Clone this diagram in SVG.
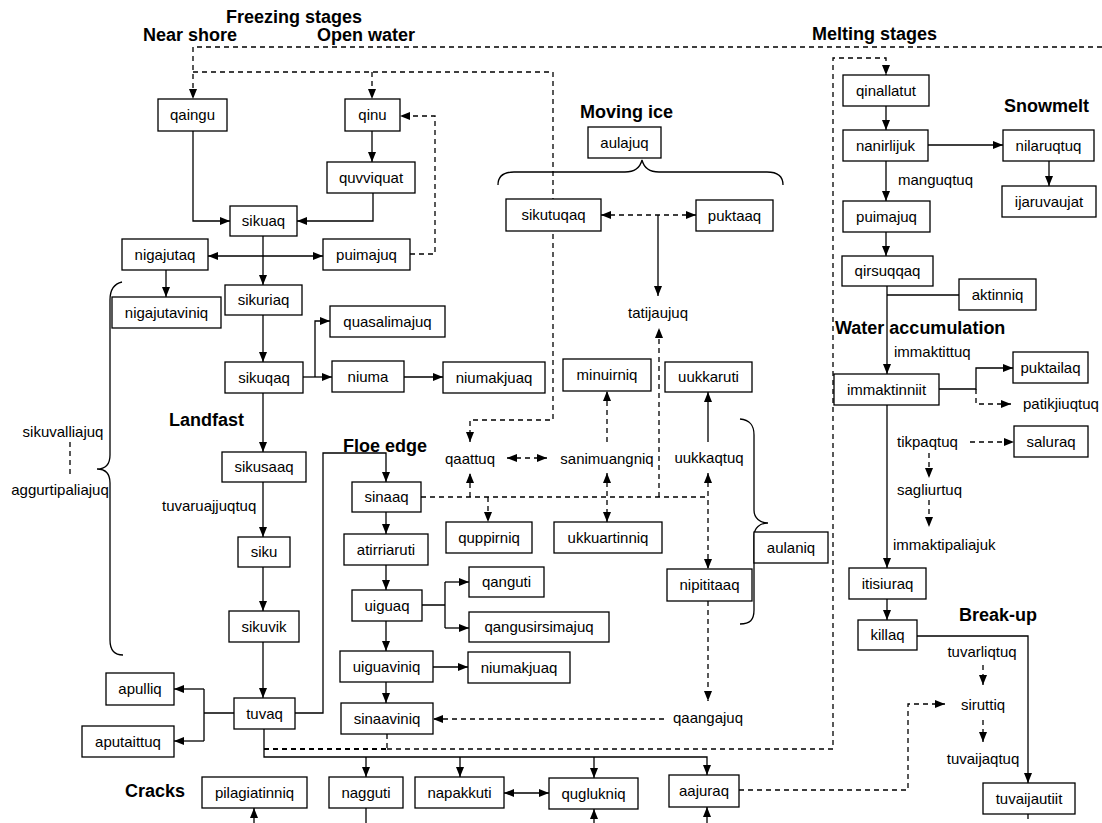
<svg xmlns="http://www.w3.org/2000/svg" width="1102" height="823" viewBox="0 0 1102 823">
<style>
.b{fill:#fff;stroke:#000;stroke-width:1.3}
.t{font-family:"Liberation Sans",Arial,sans-serif;font-size:15px;fill:#000;text-anchor:middle}
.l{font-family:"Liberation Sans",Arial,sans-serif;font-size:15px;fill:#000}
.h{font-family:"Liberation Sans",Arial,sans-serif;font-size:18px;font-weight:bold;fill:#000}
.s{fill:none;stroke:#000;stroke-width:1.3}
.d{fill:none;stroke:#000;stroke-width:1.3;stroke-dasharray:5 4}
.a{marker-end:url(#ah)}
.aa{marker-end:url(#ah);marker-start:url(#ah)}
</style>
<defs>
<marker id="ah" viewBox="0 0 10 8" refX="10" refY="4" markerWidth="10" markerHeight="8" markerUnits="userSpaceOnUse" orient="auto-start-reverse">
<path d="M0,0 L10,4 L0,8 Z" fill="#000"/>
</marker>
</defs>
<rect width="1102" height="823" fill="#fff"/>
<g id="connectors">
<path class="s a" d="M193,131 V221 H230"/>
<path class="s a" d="M372,131 V162"/>
<path class="s a" d="M373,193 V221 H297"/>
<path class="s a" d="M263,236 V285"/>
<path class="s aa" d="M208,256 H323"/>
<path class="s a" d="M166,270 V297"/>
<path class="s a" d="M263,315 V362"/>
<path class="s a" d="M303,377 H332"/>
<path class="s a" d="M315,377 V321 H330"/>
<path class="s a" d="M404,377 H443"/>
<path class="s a" d="M263,393 V452"/>
<path class="s a" d="M263,482 V537"/>
<path class="s a" d="M263,567 V611"/>
<path class="s a" d="M263,642 V698"/>
<path class="s" d="M234,713 H204 M204,689 V741"/>
<path class="s a" d="M204,689 H174"/>
<path class="s a" d="M204,741 H174"/>
<path class="s a" d="M295,713 H323 V453 H386 V482"/>
<path class="s a" d="M386,512 V534"/>
<path class="s a" d="M386,565 V590"/>
<path class="s a" d="M386,621 V651"/>
<path class="s a" d="M386,682 V703"/>
<path class="s" d="M422,605 H445 M445,582 V628"/>
<path class="s a" d="M445,582 H469"/>
<path class="s a" d="M445,628 H469"/>
<path class="s a" d="M433,667 H468"/>
<path class="s a" d="M264,729 V757 H707 V775"/>
<path class="s a" d="M366,757 V777"/>
<path class="s a" d="M460,757 V777"/>
<path class="s a" d="M594,757 V778"/>
<path class="s aa" d="M504,793 H549"/>
<path class="s a" d="M254,823 V808"/>
<path class="s" d="M366,808 V823"/>
<path class="s a" d="M594,823 V809"/>
<path class="s a" d="M707,823 V807"/>
<path class="s a" d="M658,215 V296"/>
<path class="s a" d="M708,442 V392"/>
<path class="s a" d="M886,106 V130"/>
<path class="s a" d="M928,145 H1003"/>
<path class="s a" d="M1049,161 V186"/>
<path class="s a" d="M886,161 V201"/>
<path class="s a" d="M886,232 V256"/>
<path class="s a" d="M887,286 V374"/>
<path class="s" d="M959,295 H887"/>
<path class="s a" d="M939,389 H976 V368 H1013"/>
<path class="s a" d="M887,405 V568"/>
<path class="s a" d="M887,599 V620"/>
<path class="s a" d="M917,636 H1028 V783"/>
<path class="d a" d="M1102,47 H193 V99"/>
<path class="d a" d="M193,72 H553 V420 H470 V442"/>
<path class="d a" d="M372,72 V99"/>
<path class="d a" d="M410,254 H435 V116 H400"/>
<path class="d aa" d="M601,215 H696"/>
<path class="d aa" d="M507,458 H547"/>
<path class="d a" d="M607,442 V391"/>
<path class="d" d="M421,497 H708"/>
<path class="d a" d="M470,497 V473"/>
<path class="d a" d="M488,497 V522"/>
<path class="d aa" d="M607,473 V522"/>
<path class="d a" d="M659,497 V328"/>
<path class="d aa" d="M708,473 V569"/>
<path class="d a" d="M708,601 V701"/>
<path class="d a" d="M664,719 H433"/>
<path class="d" d="M387,734 V749"/>
<path class="d" d="M264,749 H387" style="stroke-width:2"/>
<path class="d a" d="M387,749 H833 V58 H886 V75"/>
<path class="d a" d="M976,389 V404 H1011"/>
<path class="d a" d="M970,442 H1014"/>
<path class="d a" d="M929,453 V478"/>
<path class="d a" d="M929,500 V527"/>
<path class="d" d="M70,442 V478"/>
<path class="d a" d="M983,665 V685"/>
<path class="d a" d="M983,720 V742"/>
<path class="d a" d="M739,790 H908 V704 H945"/>
<path class="d" d="M1028,814 V823"/>
<path class="s" d="M122,282 C113,284 110,290 110,300 V455 C110,465 105,469 97,469 C105,469 110,473 110,483 V640 C110,650 114,655 123,655"/>
<path class="s" d="M498,185 C498,176 504,172 514,172 H625 C635,172 640,168 642,160 C644,168 649,172 659,172 H767 C777,172 783,176 783,185"/>
<path class="s" d="M740,419 C750,420 754,425 754,435 V510 C754,518 760,523 768,523 C760,523 754,528 754,536 V610 C754,620 750,624 740,624"/>
</g>
<g id="labels">
<text class="h" x="226" y="23">Freezing stages</text>
<text class="h" x="143" y="41">Near shore</text>
<text class="h" x="317" y="41">Open water</text>
<text class="h" x="812" y="40">Melting stages</text>
<text class="h" x="580" y="118">Moving ice</text>
<text class="h" x="1004" y="112">Snowmelt</text>
<text class="h" x="169" y="426">Landfast</text>
<text class="h" x="343" y="452">Floe edge</text>
<text class="h" x="835" y="334">Water accumulation</text>
<text class="h" x="959" y="621">Break-up</text>
<text class="h" x="125" y="797">Cracks</text>
<text class="t" x="63" y="437">sikuvalliajuq</text>
<text class="t" x="60" y="495">aggurtipaliajuq</text>
<text class="l" x="162" y="511">tuvaruajjuqtuq</text>
<text class="t" x="470" y="464">qaattuq</text>
<text class="t" x="607" y="464">sanimuangniq</text>
<text class="t" x="709" y="463">uukkaqtuq</text>
<text class="t" x="658" y="318">tatijaujuq</text>
<text class="t" x="708" y="723">qaangajuq</text>
<text class="l" x="898" y="185">manguqtuq</text>
<text class="l" x="894" y="357">immaktittuq</text>
<text class="l" x="1023" y="409">patikjiuqtuq</text>
<text class="l" x="897" y="447">tikpaqtuq</text>
<text class="l" x="897" y="495">sagliurtuq</text>
<text class="l" x="893" y="550">immaktipaliajuk</text>
<text class="t" x="982" y="657">tuvarliqtuq</text>
<text class="t" x="983" y="710">siruttiq</text>
<text class="t" x="983" y="764">tuvaijaqtuq</text>
</g>
<g id="qaingu"><rect class="b" x="158" y="99" width="69" height="32"/><text class="t" x="192.5" y="120">qaingu</text></g>
<g id="qinu"><rect class="b" x="345" y="99" width="55" height="32"/><text class="t" x="372.5" y="120">qinu</text></g>
<g id="quvviquat"><rect class="b" x="327" y="162" width="88" height="31"/><text class="t" x="371" y="182.5">quvviquat</text></g>
<g id="sikuaq"><rect class="b" x="230" y="206" width="67" height="30"/><text class="t" x="263.5" y="226">sikuaq</text></g>
<g id="nigajutaq"><rect class="b" x="122" y="239" width="86" height="31"/><text class="t" x="165" y="259.5">nigajutaq</text></g>
<g id="puimajuq1"><rect class="b" x="323" y="239" width="87" height="31"/><text class="t" x="366.5" y="259.5">puimajuq</text></g>
<g id="sikuriaq"><rect class="b" x="225" y="285" width="77" height="30"/><text class="t" x="263.5" y="305">sikuriaq</text></g>
<g id="nigajutaviniq"><rect class="b" x="112" y="297" width="109" height="31"/><text class="t" x="166.5" y="317.5">nigajutaviniq</text></g>
<g id="quasalimajuq"><rect class="b" x="330" y="306" width="115" height="31"/><text class="t" x="387.5" y="326.5">quasalimajuq</text></g>
<g id="sikuqaq"><rect class="b" x="225" y="362" width="78" height="31"/><text class="t" x="264" y="382.5">sikuqaq</text></g>
<g id="niuma"><rect class="b" x="332" y="361" width="72" height="31"/><text class="t" x="368" y="381.5">niuma</text></g>
<g id="niumakjuaq1"><rect class="b" x="443" y="362" width="102" height="31"/><text class="t" x="494" y="382.5">niumakjuaq</text></g>
<g id="sikusaaq"><rect class="b" x="222" y="452" width="84" height="30"/><text class="t" x="264" y="472">sikusaaq</text></g>
<g id="siku"><rect class="b" x="238" y="537" width="52" height="30"/><text class="t" x="264" y="557">siku</text></g>
<g id="sikuvik"><rect class="b" x="229" y="611" width="70" height="31"/><text class="t" x="264" y="631.5">sikuvik</text></g>
<g id="tuvaq"><rect class="b" x="234" y="698" width="61" height="31"/><text class="t" x="264.5" y="718.5">tuvaq</text></g>
<g id="apulliq"><rect class="b" x="106" y="673" width="68" height="32"/><text class="t" x="140" y="694">apulliq</text></g>
<g id="aputaittuq"><rect class="b" x="82" y="726" width="92" height="31"/><text class="t" x="128" y="746.5">aputaittuq</text></g>
<g id="sinaaq"><rect class="b" x="352" y="482" width="69" height="30"/><text class="t" x="386.5" y="502">sinaaq</text></g>
<g id="atirriaruti"><rect class="b" x="344" y="534" width="84" height="31"/><text class="t" x="386" y="554.5">atirriaruti</text></g>
<g id="uiguaq"><rect class="b" x="352" y="590" width="70" height="31"/><text class="t" x="387" y="610.5">uiguaq</text></g>
<g id="uiguaviniq"><rect class="b" x="340" y="651" width="93" height="31"/><text class="t" x="386.5" y="671.5">uiguaviniq</text></g>
<g id="sinaaviniq"><rect class="b" x="341" y="703" width="92" height="31"/><text class="t" x="387" y="723.5">sinaaviniq</text></g>
<g id="qanguti"><rect class="b" x="469" y="567" width="75" height="30"/><text class="t" x="506.5" y="587">qanguti</text></g>
<g id="qangusirsimajuq"><rect class="b" x="469" y="612" width="140" height="30"/><text class="t" x="539" y="632">qangusirsimajuq</text></g>
<g id="niumakjuaq2"><rect class="b" x="468" y="652" width="102" height="31"/><text class="t" x="519" y="672.5">niumakjuaq</text></g>
<g id="quppirniq"><rect class="b" x="446" y="522" width="86" height="31"/><text class="t" x="489" y="542.5">quppirniq</text></g>
<g id="ukkuartinniq"><rect class="b" x="554" y="522" width="108" height="31"/><text class="t" x="608" y="542.5">ukkuartinniq</text></g>
<g id="minuirniq"><rect class="b" x="563" y="359" width="88" height="32"/><text class="t" x="607" y="380">minuirniq</text></g>
<g id="uukkaruti"><rect class="b" x="665" y="362" width="87" height="30"/><text class="t" x="708.5" y="382">uukkaruti</text></g>
<g id="nipititaaq"><rect class="b" x="667" y="569" width="85" height="32"/><text class="t" x="709.5" y="590">nipititaaq</text></g>
<g id="aulaniq"><rect class="b" x="754" y="532" width="74" height="31"/><text class="t" x="791" y="552.5">aulaniq</text></g>
<g id="aulajuq"><rect class="b" x="588" y="127" width="73" height="31"/><text class="t" x="624.5" y="147.5">aulajuq</text></g>
<g id="sikutuqaq"><rect class="b" x="506" y="199" width="95" height="32"/><text class="t" x="553.5" y="220">sikutuqaq</text></g>
<g id="puktaaq"><rect class="b" x="696" y="200" width="77" height="31"/><text class="t" x="734.5" y="220.5">puktaaq</text></g>
<g id="qinallatut"><rect class="b" x="843" y="75" width="86" height="31"/><text class="t" x="886" y="95.5">qinallatut</text></g>
<g id="nanirlijuk"><rect class="b" x="843" y="130" width="85" height="31"/><text class="t" x="885.5" y="150.5">nanirlijuk</text></g>
<g id="nilaruqtuq"><rect class="b" x="1003" y="130" width="91" height="31"/><text class="t" x="1048.5" y="150.5">nilaruqtuq</text></g>
<g id="ijaruvaujat"><rect class="b" x="1002" y="186" width="94" height="31"/><text class="t" x="1049" y="206.5">ijaruvaujat</text></g>
<g id="puimajuq2"><rect class="b" x="843" y="201" width="87" height="31"/><text class="t" x="886.5" y="221.5">puimajuq</text></g>
<g id="qirsuqqaq"><rect class="b" x="842" y="256" width="91" height="30"/><text class="t" x="887.5" y="276">qirsuqqaq</text></g>
<g id="aktinniq"><rect class="b" x="959" y="279" width="77" height="31"/><text class="t" x="997.5" y="299.5">aktinniq</text></g>
<g id="immaktinniit"><rect class="b" x="834" y="374" width="105" height="31"/><text class="t" x="886.5" y="394.5">immaktinniit</text></g>
<g id="puktailaq"><rect class="b" x="1013" y="352" width="75" height="31"/><text class="t" x="1050.5" y="372.5">puktailaq</text></g>
<g id="saluraq"><rect class="b" x="1014" y="426" width="74" height="31"/><text class="t" x="1051" y="446.5">saluraq</text></g>
<g id="itisiuraq"><rect class="b" x="849" y="568" width="77" height="31"/><text class="t" x="887.5" y="588.5">itisiuraq</text></g>
<g id="killaq"><rect class="b" x="858" y="620" width="59" height="30"/><text class="t" x="887.5" y="640">killaq</text></g>
<g id="tuvaijautiit"><rect class="b" x="983" y="783" width="92" height="31"/><text class="t" x="1029" y="803.5">tuvaijautiit</text></g>
<g id="pilagiatinniq"><rect class="b" x="202" y="777" width="105" height="31"/><text class="t" x="254.5" y="797.5">pilagiatinniq</text></g>
<g id="nagguti"><rect class="b" x="329" y="777" width="74" height="31"/><text class="t" x="366" y="797.5">nagguti</text></g>
<g id="napakkuti"><rect class="b" x="415" y="777" width="89" height="31"/><text class="t" x="459.5" y="797.5">napakkuti</text></g>
<g id="quglukniq"><rect class="b" x="549" y="778" width="89" height="31"/><text class="t" x="593.5" y="798.5">quglukniq</text></g>
<g id="aajuraq"><rect class="b" x="669" y="775" width="70" height="32"/><text class="t" x="704" y="796">aajuraq</text></g>
</svg>
